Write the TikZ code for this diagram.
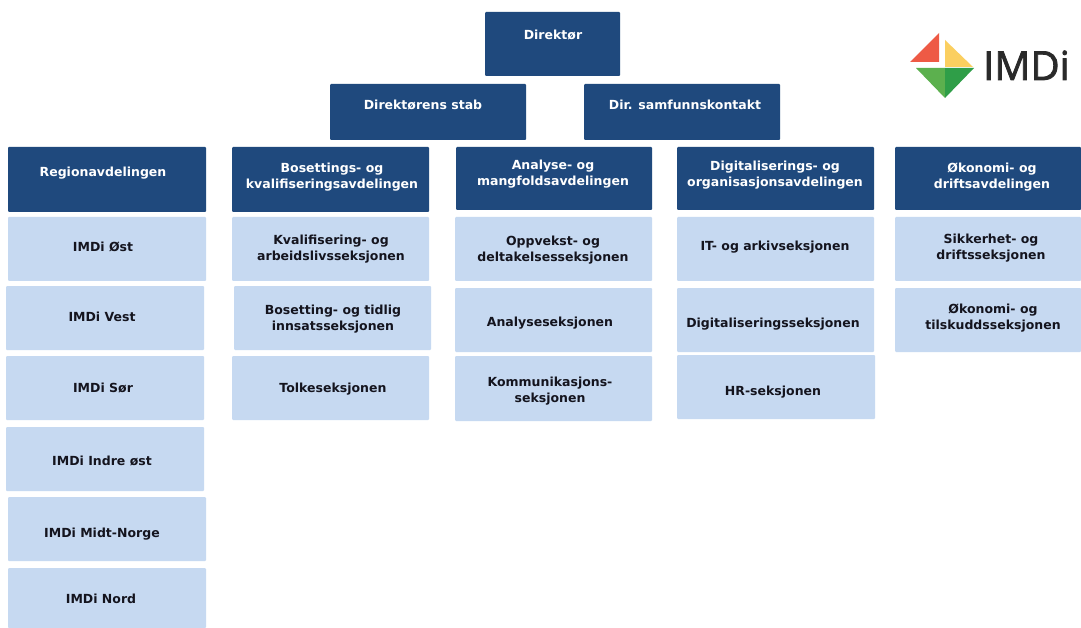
\documentclass[tikz,border=0pt]{standalone}
\usepackage{fontspec}
\setmainfont{DejaVu Sans}
\newfontfamily\logofont[FakeBold=2]{Open Sans}
\definecolor{navy}{HTML}{1F497D}
\definecolor{pale}{HTML}{C6D9F1}
\definecolor{ink}{HTML}{14141E}
\definecolor{logored}{HTML}{EE5A45}
\definecolor{logoyellow}{HTML}{FBCF60}
\definecolor{logogreena}{HTML}{5CB04E}
\definecolor{logogreenb}{HTML}{2F9E48}
\definecolor{logoink}{HTML}{2A2A2A}
\tikzset{
  boxbase/.style={inner sep=0pt,outer sep=0pt,rounded corners=1pt,anchor=north west},
  headbox/.style={boxbase,fill=navy},
  subbox/.style={boxbase,fill=pale},
  labeltext/.style={font=\bfseries\fontsize{12.5}{16.6}\selectfont,align=center,inner sep=0pt,yshift=-1pt},
  headtext/.style={labeltext,text=white},
  subtext/.style={labeltext,text=ink},
}
% name, x0, y0, x1, y1, text x, text y, text
\newcommand{\headnode}[8]{%
  \node[headbox,minimum width=#4pt-#2pt,minimum height=#5pt-#3pt] (#1) at (#2,#3) {};
  \node[headtext] (#1-label) at (#6,#7) {#8};}
\newcommand{\subnode}[8]{%
  \node[subbox,minimum width=#4pt-#2pt,minimum height=#5pt-#3pt] (#1) at (#2,#3) {};
  \node[subtext] (#1-label) at (#6,#7) {#8};}
\begin{document}
\begin{tikzpicture}[x=1pt,y=-1pt]
\useasboundingbox (0,0) rectangle (1081,628);
\fill[white] (0,0) rectangle (1081,628);
\headnode{dir}{485}{12}{620}{76}{553}{34}{Direktør}
\headnode{stab}{330}{84}{526}{140}{423}{104}{Direktørens stab}
\headnode{samf}{584}{84}{780}{140}{685}{104}{Dir. samfunnskontakt}
\headnode{reg}{8}{147}{206}{212}{103}{172}{Regionavdelingen}
\headnode{bos}{232}{147}{429}{212}{332}{176}{Bosettings- og\\kvalifiseringsavdelingen}
\headnode{ana}{456}{147}{652}{210}{553}{173}{Analyse- og\\mangfoldsavdelingen}
\headnode{dig}{677}{147}{874}{210}{775}{174}{Digitaliserings- og\\organisasjonsavdelingen}
\headnode{oko}{895}{147}{1081}{210}{992}{176}{Økonomi- og\\driftsavdelingen}
\subnode{ost}{8}{217}{206}{281}{103}{246}{IMDi Øst}
\subnode{vest}{6}{286}{204}{350}{102}{316}{IMDi Vest}
\subnode{sor}{6}{356}{204}{420}{103}{387}{IMDi Sør}
\subnode{indre}{6}{427}{204}{491}{102}{460}{IMDi Indre øst}
\subnode{midt}{8}{497}{206}{561}{102}{533}{IMDi Midt-Norge}
\subnode{nord}{8}{568}{206}{628}{101}{598}{IMDi Nord}
\subnode{kval}{232}{217}{429}{281}{331}{248}{Kvalifisering- og\\arbeidslivsseksjonen}
\subnode{boss}{234}{286}{431}{350}{333}{318}{Bosetting- og tidlig\\innsatsseksjonen}
\subnode{tolk}{232}{356}{429}{420}{333}{388}{Tolkeseksjonen}
\subnode{opp}{455}{217}{652}{281}{553}{249}{Oppvekst- og\\deltakelsesseksjonen}
\subnode{anas}{455}{288}{652}{352}{550}{322}{Analyseseksjonen}
\subnode{kom}{455}{356}{652}{421}{550}{390}{Kommunikasjons-\\seksjonen}
\subnode{it}{677}{217}{874}{281}{775}{246}{IT- og arkivseksjonen}
\subnode{digs}{677}{288}{874}{352}{773}{323}{Digitaliseringsseksjonen}
\subnode{hr}{677}{355}{875}{419}{773}{391}{HR-seksjonen}
\subnode{sikk}{895}{217}{1081}{281}{991}{247}{Sikkerhet- og\\driftsseksjonen}
\subnode{okot}{895}{288}{1081}{352}{993}{317}{Økonomi- og\\tilskuddsseksjonen}
% logo
\fill[logored] (910,62) -- (939,33) -- (939,62) -- cycle;
\fill[logoyellow] (945,40) -- (973,67) -- (945,67) -- cycle;
\fill[logogreena] (916,68) -- (945,68) -- (945,98) -- cycle;
\fill[logogreenb] (945,68) -- (974,68) -- (945,98) -- cycle;
\node[inner sep=0pt,anchor=base west,text=logoink,font=\logofont\fontsize{40}{40}\selectfont] (logo) at (983,80) {IMDi};
\end{tikzpicture}
\end{document}
